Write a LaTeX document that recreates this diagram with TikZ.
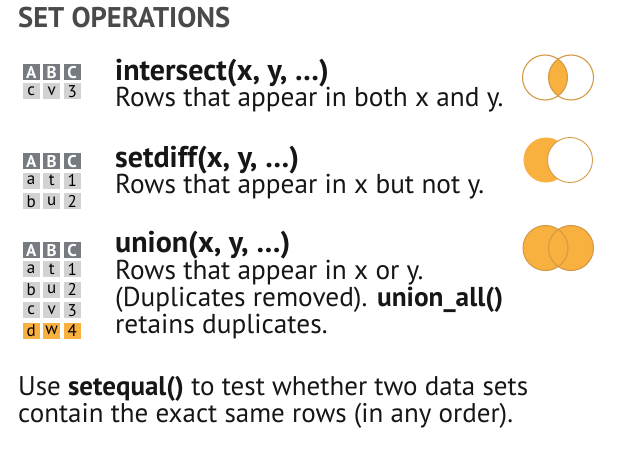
\documentclass[tikz,border=0pt]{standalone}
\usepackage{fontspec}
\setmainfont{PT Sans}
\definecolor{hdrgray}{HTML}{767A81}
\definecolor{cellgray}{HTML}{D2D2D2}
\definecolor{setorange}{HTML}{F8B03E}
\definecolor{setline}{HTML}{D49A45}
\definecolor{titlegray}{HTML}{4A4A4A}
\definecolor{bodytext}{HTML}{161616}
\newcommand{\cellfont}{\fontsize{17}{17}\selectfont}
\tikzset{
  cellbox/.style={minimum width=17pt, minimum height=16pt, inner sep=0pt,
    anchor=north west},
  hdrcell/.style={cellbox, fill=hdrgray, text=white, font=\cellfont\bfseries},
  bodycell/.style={cellbox, fill=cellgray, text=black, font=\cellfont},
  newcell/.style={cellbox, fill=setorange, text=black, font=\cellfont},
  line/.style={anchor=base west, inner sep=0pt, text=bodytext, font=\fontsize{27.3}{27.3}\selectfont},
  note/.style={line, font=\fontsize{27}{27}\selectfont},
  fname/.style={line, font=\fontsize{30}{30}\selectfont\bfseries},
  ring/.style={draw=setline, line width=1.1pt},
}
\begin{document}
\begin{tikzpicture}[x=1pt,y=-1pt]
\useasboundingbox[fill=white] (0,0) rectangle (619,450);

% heading
\node[anchor=base west, inner sep=0pt, text=titlegray,
  font=\fontsize{28.5}{28.5}\selectfont\bfseries] (title) at (18,27) {SET OPERATIONS};

% ---- intersect ----
\node[hdrcell] (i-a) at (22.5,64) {A};
\node[hdrcell] (i-b) at (43,64) {B};
\node[hdrcell] (i-c) at (63.5,64) {C};
\node[bodycell] (i-1a) at (22.5,83) {c};
\node[bodycell] (i-1b) at (43,83) {v};
\node[bodycell] (i-1c) at (63.5,83) {3};

\node[fname] (i-name) at (115,80) {intersect(x, y, …)};
\node[line] (i-desc) at (115,106) {Rows that appear in both x and y.};

\begin{scope}
  \clip (545,77.5) circle (22.5pt);
  \fill[setorange] (571,77.5) circle (22.5pt);
\end{scope}
\draw[ring] (545,77.5) circle (22.5pt);
\draw[ring] (571,77.5) circle (22.5pt);

% ---- setdiff ----
\node[hdrcell] (d-a) at (22.5,153) {A};
\node[hdrcell] (d-b) at (43,153) {B};
\node[hdrcell] (d-c) at (63.5,153) {C};
\node[bodycell] (d-1a) at (22.5,172.5) {a};
\node[bodycell] (d-1b) at (43,172.5) {t};
\node[bodycell] (d-1c) at (63.5,172.5) {1};
\node[bodycell] (d-2a) at (22.5,193) {b};
\node[bodycell] (d-2b) at (43,193) {u};
\node[bodycell] (d-2c) at (63.5,193) {2};

\node[fname] (d-name) at (115,167) {setdiff(x, y, …)};
\node[line] (d-desc) at (115,193) {Rows that appear in x but not y.};

\fill[setorange] (546,160) circle (22.5pt);
\draw[ring, line width=0.9pt, fill=white] (570,160) circle (22.5pt);

% ---- union ----
\node[hdrcell] (u-a) at (22.5,242) {A};
\node[hdrcell] (u-b) at (43,242) {B};
\node[hdrcell] (u-c) at (63.5,242) {C};
\node[bodycell] (u-1a) at (22.5,261) {a};
\node[bodycell] (u-1b) at (43,261) {t};
\node[bodycell] (u-1c) at (63.5,261) {1};
\node[bodycell] (u-2a) at (22.5,281.5) {b};
\node[bodycell] (u-2b) at (43,281.5) {u};
\node[bodycell] (u-2c) at (63.5,281.5) {2};
\node[bodycell] (u-3a) at (22.5,302) {c};
\node[bodycell] (u-3b) at (43,302) {v};
\node[bodycell] (u-3c) at (63.5,302) {3};
\node[newcell] (u-4a) at (22.5,322.5) {d};
\node[newcell] (u-4b) at (43,322.5) {w};
\node[newcell] (u-4c) at (63.5,322.5) {4};

\node[fname] (u-name) at (115,252) {union(x, y, …)};
\node[line] (u-desc1) at (115,279) {Rows that appear in x or y.};
\node[line] (u-desc2) at (115,306) {(Duplicates removed). \textbf{union\_all()}};
\node[line] (u-desc3) at (115,333) {retains duplicates.};

\fill[setorange] (545.5,248) circle (22.5pt);
\fill[setorange] (571,248) circle (22.5pt);
\draw[ring] (545.5,248) circle (22.5pt);
\draw[ring] (571,248) circle (22.5pt);

% ---- closing note ----
\node[note] (note1) at (18,395) {Use \textbf{setequal()} to test whether two data sets};
\node[note] (note2) at (18,422) {contain the exact same rows (in any order).};
\end{tikzpicture}
\end{document}
